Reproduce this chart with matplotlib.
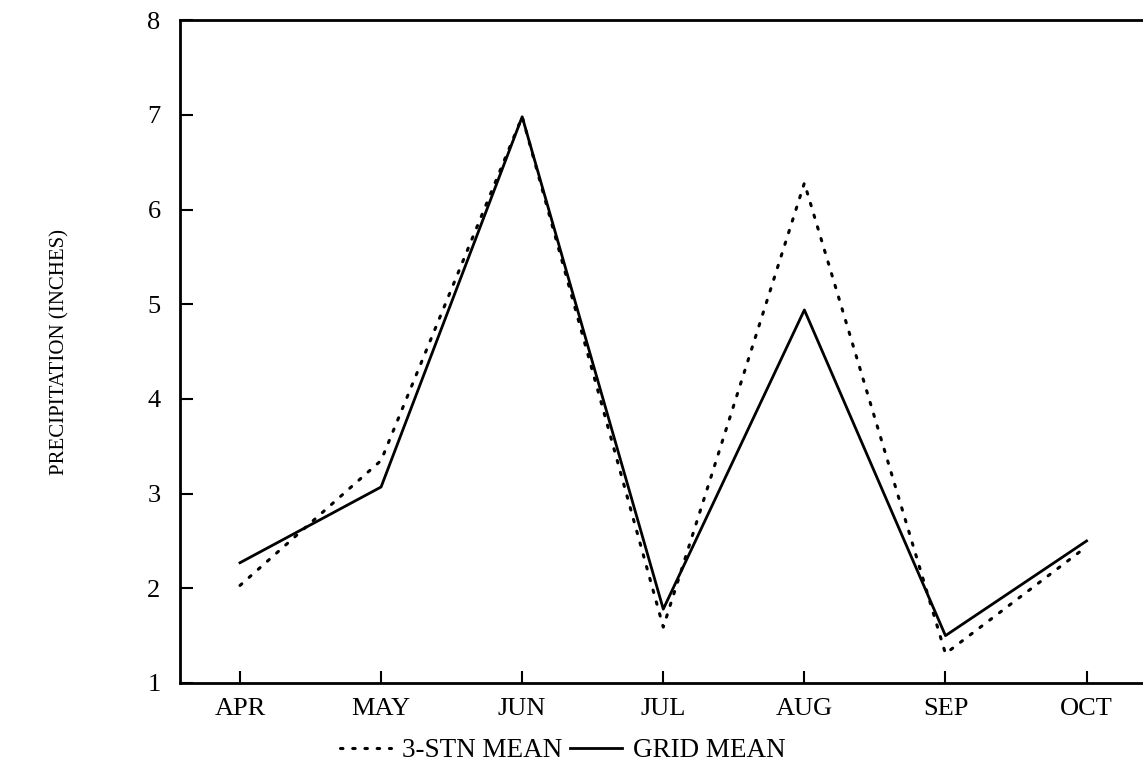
import matplotlib.pyplot as plt

months = ["APR", "MAY", "JUN", "JUL", "AUG", "SEP", "OCT"]
stn_mean = [2.03, 3.35, 6.98, 1.59, 6.28, 1.31, 2.44]
grid_mean = [2.27, 3.07, 6.98, 1.78, 4.94, 1.50, 2.50]
y_ticks = [1, 2, 3, 4, 5, 6, 7, 8]

plt.rcParams['font.family'] = ['Liberation Serif', 'DejaVu Serif']

fig = plt.figure(figsize=(11.43, 7.77), dpi=100)
ax = fig.add_axes([0.1575, 0.121, 0.8425, 0.853])

x = list(range(len(months)))
ax.plot(x, stn_mean, color='black', lw=2.2, linestyle=(0, (0.8, 3.2)),
        dash_capstyle='round', label='3-STN MEAN')
ax.plot(x, grid_mean, color='black', lw=2.0, label='GRID MEAN')

ax.set_xlim(-0.425, 6.40)
ax.set_ylim(1, 8)
ax.set_xticks(x)
ax.set_xticklabels(months)
ax.set_yticks(y_ticks)

ax.spines['right'].set_visible(False)
for s in ['left', 'bottom', 'top']:
    ax.spines[s].set_linewidth(2)

ax.tick_params(direction='in', length=9, width=1.5, labelsize=19, pad=11)
ax.tick_params(axis='y', pad=14)

fig.text(0.052, 0.547, "PRECIPITATION (INCHES)", rotation=90,
         ha='center', va='center', fontsize=15)

fig.legend(loc='center', bbox_to_anchor=(0.492, 0.034), ncol=2, frameon=False,
           fontsize=19.5, handlelength=1.9, handletextpad=0.4, columnspacing=0.3)

fig.savefig("out.png", dpi=100)
